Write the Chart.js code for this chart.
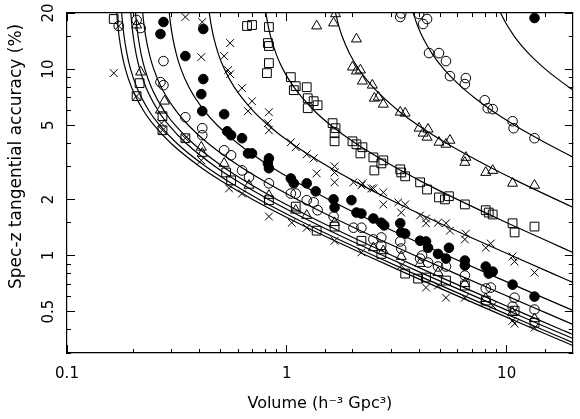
<!DOCTYPE html>
<html>
<head>
<meta charset="utf-8">
<script src="https://cdn.jsdelivr.net/npm/chart.js@4.4.1/dist/chart.umd.min.js"></script>
<style>
  html, body { margin: 0; padding: 0; background: #fff; }
</style>
</head>
<body>
<canvas id="chart" width="580" height="419"></canvas>
<script>
// Tick labels
const xTickLabels = [0.1, 1, 10];
const yTickLabels = [0.5, 1, 2, 5, 10, 20];

// Fitted curves (volume, accuracy %)
const curveK_V = [9.39, 9.96, 10.84, 11.62, 12.71, 13.70, 15.0, 16.76, 19.21, 20];
const curveK_S = [20, 17.5, 15, 13.5, 12, 11, 10, 9, 8, 7.74];
const curveJ_V = [3.758, 3.903, 4.127, 4.602, 5.183, 6.252, 7.161, 8.561, 10.88, 12.67, 15.16, 20];
const curveJ_S = [20, 17.5, 15, 12, 10, 8, 7, 6, 5, 4.5, 4, 3.37];
const curveI_V = [1.666, 1.713, 1.785, 1.937, 2.123, 2.467, 3.208, 3.953, 5.326, 8.291, 11.27, 16.76, 20];
const curveI_S = [20, 17.5, 15, 12, 10, 8, 6, 5, 4, 3, 2.5, 2, 1.816];
const curveH_V = [0.803, 0.819, 0.8436, 0.8957, 0.9594, 1.077, 1.330, 1.585, 2.054, 3.068, 4.087, 5.963, 10.02, 15.23, 20];
const curveH_S = [20, 17.5, 15, 12, 10, 8, 6, 5, 4, 3, 2.5, 2, 1.5, 1.2, 1.038];
const curveG_V = [0.4441, 0.4518, 0.4637, 0.4889, 0.5198, 0.5766, 0.6994, 0.8228, 1.050, 1.541, 2.035, 2.944, 4.908, 7.433, 10.52, 16.20, 20];
const curveG_S = [20, 17.5, 15, 12, 10, 8, 6, 5, 4, 3, 2.5, 2, 1.5, 1.2, 1, 0.8, 0.718];
const curveF_V = [0.2920, 0.2959, 0.3019, 0.3146, 0.3301, 0.3587, 0.4204, 0.4825, 0.5968, 0.8437, 1.092, 1.549, 2.537, 3.807, 5.359, 8.217, 14.39, 20];
const curveF_S = [20, 17.5, 15, 12, 10, 8, 6, 5, 4, 3, 2.5, 2, 1.5, 1.2, 1, 0.8, 0.6, 0.508];
const curveL1_V = [0.2210, 0.2238, 0.2280, 0.2371, 0.2481, 0.2684, 0.3123, 0.3565, 0.4377, 0.6133, 0.7899, 1.115, 1.817, 2.720, 3.824, 5.856, 10.25, 14.66, 20];
const curveL1_S = [20, 17.5, 15, 12, 10, 8, 6, 5, 4, 3, 2.5, 2, 1.5, 1.2, 1, 0.8, 0.6, 0.5, 0.427];
const curveL2_V = [0.2050, 0.2072, 0.2105, 0.2175, 0.2261, 0.2419, 0.2761, 0.3105, 0.3737, 0.5104, 0.6479, 0.9010, 1.448, 2.151, 3.010, 4.592, 8.009, 11.45, 17.77, 20];
const curveL2_S = [20, 17.5, 15, 12, 10, 8, 6, 5, 4, 3, 2.5, 2, 1.5, 1.2, 1, 0.8, 0.6, 0.5, 0.4, 0.377];
const curveL3_V = [0.1951, 0.1970, 0.2001, 0.2064, 0.2142, 0.2285, 0.2595, 0.2906, 0.3480, 0.4718, 0.5964, 0.8257, 1.321, 1.958, 2.737, 4.170, 7.267, 10.38, 16.11, 20];
const curveL3_S = [20, 17.5, 15, 12, 10, 8, 6, 5, 4, 3, 2.5, 2, 1.5, 1.2, 1, 0.8, 0.6, 0.5, 0.4, 0.359];
const curveL4_V = [0.1773, 0.1791, 0.1818, 0.1876, 0.1946, 0.2076, 0.2356, 0.2639, 0.3158, 0.4280, 0.5408, 0.7485, 1.197, 1.774, 2.480, 3.778, 6.583, 9.404, 14.60, 20];
const curveL4_S = [20, 17.5, 15, 12, 10, 8, 6, 5, 4, 3, 2.5, 2, 1.5, 1.2, 1, 0.8, 0.6, 0.5, 0.4, 0.341];
const curveL5_V = [0.1684, 0.1700, 0.1725, 0.1779, 0.1844, 0.1965, 0.2226, 0.2488, 0.2970, 0.4012, 0.5060, 0.6990, 1.116, 1.652, 2.307, 3.513, 6.119, 8.739, 13.56, 20];
const curveL5_S = [20, 17.5, 15, 12, 10, 8, 6, 5, 4, 3, 2.5, 2, 1.5, 1.2, 1, 0.8, 0.6, 0.5, 0.4, 0.329];

// Measured points, one pair of arrays per marker
const crossV = [0.1632, 0.1719, 0.3455, 0.4124, 0.5522, 0.4082, 0.5187, 0.5408, 0.5522, 0.6256, 0.6946, 0.666, 0.8291, 0.8204, 0.8291, 1.043, 1.098, 1.232, 1.325, 1.367, 1.649, 1.649, 1.649, 2.010, 2.208, 2.424, 2.185, 2.476, 2.748, 2.748, 3.213, 3.455, 3.315, 4.040, 4.299, 4.299, 4.873, 5.297, 5.523, 6.524, 6.456, 8.035, 8.465, 10.64, 10.87, 13.39,
  0.2691, 0.2719, 0.2073, 0.3455, 0.4082, 0.5465, 0.6256, 0.8291, 1.053, 1.232, 1.649, 2.185, 3.315, 4.299, 4.873, 5.297, 6.456, 8.643, 10.64, 10.87, 13.39];
const crossS = [9.52, 17.03, 19.04, 17.89, 13.80, 11.60, 11.75, 9.88, 9.40, 7.91, 6.73, 5.95, 5.87, 5.13, 4.70, 4.05, 3.81, 3.49, 3.32, 2.76, 3.01, 2.79, 2.47, 2.47, 2.44, 2.29, 2.38, 2.29, 2.18, 1.88, 1.93, 1.88, 1.70, 1.64, 1.58, 1.49, 1.50, 1.49, 1.36, 1.31, 1.22, 1.10, 1.16, 0.988, 0.929, 0.810,
  5.13, 4.70, 7.16, 4.26, 3.24, 2.29, 2.15, 1.62, 1.50, 1.41, 1.20, 1.04, 0.884, 0.673, 0.690, 0.594, 0.594, 0.538, 0.447, 0.431, 0.410];

const squareV = [0.1632, 0.2140, 0.2073, 0.2719, 0.2719, 0.3455, 0.5297, 0.6592, 0.6946, 0.8291, 0.8204, 0.8291, 0.8291, 0.812, 1.043, 1.098, 1.076, 1.232, 1.245, 1.325, 1.381, 1.245, 1.615, 1.666, 1.649, 1.649, 1.989, 2.074, 2.208, 2.162, 2.476, 2.502, 2.748, 2.691, 3.281, 3.315, 3.455, 4.040, 4.345, 4.924, 5.465, 5.242, 6.456, 8.035, 8.29, 8.643, 10.64, 10.87, 13.39,
  1.367, 3.455, 3.956, 4.299, 5.297, 6.456, 8.035, 10.87, 13.39, 0.8291, 1.098, 1.649, 2.185, 2.691, 0.5579];
const squareS = [18.57, 8.41, 7.16, 5.59, 4.70, 4.26, 2.79, 17.03, 17.24, 16.82, 13.80, 13.30, 10.77, 9.52, 9.06, 8.10, 7.71, 8.00, 6.98, 6.73, 6.40, 6.17, 5.13, 4.82, 4.53, 4.10, 4.10, 3.95, 3.81, 3.53, 3.36, 2.86, 3.24, 3.12, 2.90, 2.79, 2.66, 2.47, 2.26, 2.05, 2.08, 2.00, 1.88, 1.75, 1.70, 1.66, 1.49, 1.33, 1.43,
  1.36, 0.800, 0.752, 0.762, 0.734, 0.690, 0.573, 0.506, 0.436, 1.98, 1.83, 1.43, 1.20, 1.02, 2.53];

const triangleV = [0.2073, 0.2162, 0.2775, 0.2662, 0.4082, 0.4124, 0.5187, 0.6730, 1.632, 1.666, 1.367, 2.074, 1.989, 2.074, 2.162, 2.208, 2.449, 2.502, 2.608, 2.748, 3.281, 3.455, 3.998, 4.390, 4.168, 4.345, 4.924, 5.297, 5.523, 6.524, 6.456, 8.035, 8.643, 10.64, 13.39,
  0.8291, 1.098, 1.232, 1.649, 2.476, 2.748, 3.315, 4.040, 4.873, 6.456, 8.035, 10.64, 13.39];
const triangleS = [17.24, 9.64, 6.73, 6.02, 3.81, 3.53, 3.12, 2.38, 17.67, 19.8, 17.03, 14.50, 10.25, 9.76, 9.88, 8.62, 8.20, 6.98, 7.07, 6.48, 5.87, 5.80, 4.82, 4.76, 4.53, 4.31, 4.05, 3.95, 4.15, 3.36, 3.16, 2.79, 2.86, 2.44, 2.38,
  2.10, 1.75, 1.64, 1.50, 1.10, 1.06, 0.988, 0.906, 0.810, 0.707, 0.587, 0.494, 0.458];

const circleV = [0.1719, 0.2073, 0.2162, 0.2747, 0.2662, 0.2747, 0.3455, 0.4124, 0.4124, 0.5187, 0.5579, 0.6256, 0.6730, 0.8291, 1.043, 1.098, 1.232, 1.325, 1.381, 1.632, 2.010, 2.185, 2.476, 2.691, 2.691, 3.281, 3.315, 4.040, 4.124, 4.390, 4.873, 5.297, 6.456, 8.035, 8.465, 10.87, 10.64, 13.39,
  3.315, 3.281, 3.998, 4.168, 4.345, 4.437, 4.924, 5.297, 5.523, 6.524, 6.456, 7.951, 8.204, 8.643, 10.64, 10.76, 13.39];
const circleS = [17.03, 18.34, 16.61, 11.04, 8.51, 8.20, 5.52, 4.82, 4.42, 3.67, 3.45, 2.86, 2.63, 2.44, 2.15, 2.15, 1.98, 1.93, 1.75, 1.62, 1.41, 1.41, 1.22, 1.25, 1.13, 1.19, 1.09, 0.963, 1.00, 0.917, 0.873, 0.873, 0.781, 0.665, 0.673, 0.594, 0.532, 0.513,
  19.9, 19.04, 19.75, 17.46, 18.57, 12.19, 12.19, 11.04, 9.17, 8.95, 8.31, 6.81, 6.17, 6.10, 5.25, 4.82, 4.26];

const dotV = [0.2747, 0.2662, 0.3455, 0.4168, 0.4168, 0.4082, 0.4124, 0.5187, 0.5353, 0.5579, 0.6256, 0.6661, 0.6946, 0.8291, 0.8204, 0.8291, 1.043, 1.076, 1.232, 1.353, 1.632, 1.649, 1.968, 2.074, 2.185, 2.476, 2.691, 2.776, 3.281, 3.315, 3.455, 4.040, 4.299, 4.390, 4.873, 5.465, 5.297, 6.456, 6.456, 8.035, 8.29, 8.643, 10.64, 13.39, 13.39];
const dotS = [17.89, 15.43, 11.75, 16.41, 8.84, 7.34, 5.95, 5.73, 4.64, 4.42, 4.26, 3.53, 3.53, 3.32, 3.12, 2.94, 2.59, 2.44, 2.44, 2.21, 2.00, 1.81, 1.98, 1.70, 1.68, 1.58, 1.50, 1.45, 1.49, 1.33, 1.31, 1.20, 1.19, 1.10, 1.02, 1.10, 0.963, 0.940, 0.884, 0.873, 0.800, 0.820, 0.698, 0.602, 18.8];

const FONT = 'DejaVu Sans';
const INK = '#000';
const NONE = 'rgba(0,0,0,0)';

function pairs(xs, ys) {
  return xs.map((x, i) => ({x: x, y: ys[i]}));
}

function isTick(v, list) {
  return list.some(t => Math.abs(v / t - 1) < 1e-6);
}

// drop the label overhang padding so the plot box sits where it should
function noOverhang(s) {
  s.paddingLeft = 0;
  s.paddingRight = 0;
  s.paddingTop = 0;
  s.paddingBottom = 0;
}

function curve(xs, ys) {
  return {
    data: pairs(xs, ys),
    showLine: true,
    borderColor: INK,
    borderWidth: 1.2,
    pointRadius: 0,
    fill: false,
    cubicInterpolationMode: 'monotone'
  };
}

function markers(xs, ys, style, radius, fillColor) {
  return {
    data: pairs(xs, ys),
    showLine: false,
    pointStyle: style,
    pointRadius: radius,
    pointBorderWidth: 1,
    pointBorderColor: INK,
    pointBackgroundColor: fillColor
  };
}

// Frame axis without labels: only inward tick marks (minor or major)
function frameAxis(position, min, max, labels, major, weight) {
  const horizontal = position === 'top' || position === 'bottom';
  return {
    type: 'logarithmic',
    position: position,
    min: min,
    max: max,
    weight: weight,
    border: {display: !major, color: INK, width: 1.2},
    grid: {
      drawOnChartArea: false,
      drawTicks: true,
      tickLength: major ? -8 : -4,
      tickWidth: 1,
      tickColor: ctx => (!major || isTick(ctx.tick.value, labels)) ? INK : NONE
    },
    ticks: {display: false, autoSkip: false},
    afterFit: s => {
      if (horizontal) s.height = 0; else s.width = 0;
      noOverhang(s);
    }
  };
}

const datasets = [
  markers(crossV, crossS, 'crossRot', 5.5, NONE),
  markers(squareV, squareS, 'rect', 6.2, NONE),
  markers(triangleV, triangleS, 'triangle', 5.8, NONE),
  markers(circleV, circleS, 'circle', 4.8, NONE),
  markers(dotV, dotS, 'circle', 4.8, INK),
  curve(curveK_V, curveK_S),
  curve(curveJ_V, curveJ_S),
  curve(curveI_V, curveI_S),
  curve(curveH_V, curveH_S),
  curve(curveG_V, curveG_S),
  curve(curveF_V, curveF_S),
  curve(curveL1_V, curveL1_S),
  curve(curveL2_V, curveL2_S),
  curve(curveL3_V, curveL3_S),
  curve(curveL4_V, curveL4_S),
  curve(curveL5_V, curveL5_S)
];

new Chart(document.getElementById('chart'), {
  type: 'scatter',
  data: {datasets: datasets},
  options: {
    responsive: false,
    animation: false,
    devicePixelRatio: 1,
    layout: {padding: {top: 13, right: 4, bottom: 0, left: 0}},
    plugins: {legend: {display: false}, tooltip: {enabled: false}},
    scales: {
      x: {
        type: 'logarithmic',
        position: 'bottom',
        min: 0.1,
        max: 20,
        weight: 0,
        border: {display: true, color: INK, width: 1.2},
        grid: {drawOnChartArea: false, drawTicks: true, tickLength: -4, tickWidth: 1, tickColor: INK},
        ticks: {
          autoSkip: false,
          minRotation: 0,
          maxRotation: 0,
          padding: 16,
          color: INK,
          font: {family: FONT, size: 15},
          callback: v => isTick(v, xTickLabels) ? String(v) : ''
        },
        title: {
          display: true,
          text: 'Volume (h\u207B\u00B3 Gpc\u00B3)',
          color: INK,
          font: {family: FONT, size: 16},
          padding: {top: 0, bottom: 6}
        },
        afterFit: s => { s.height = 66; noOverhang(s); }
      },
      y: {
        type: 'logarithmic',
        position: 'left',
        min: 0.3,
        max: 20,
        weight: 0,
        border: {display: true, color: INK, width: 1.2},
        grid: {drawOnChartArea: false, drawTicks: true, tickLength: -4, tickWidth: 1, tickColor: INK},
        ticks: {
          autoSkip: false,
          minRotation: 90,
          maxRotation: 90,
          crossAlign: 'center',
          padding: 10,
          color: INK,
          font: {family: FONT, size: 15},
          callback: v => isTick(v, yTickLabels) ? String(v) : ''
        },
        title: {
          display: true,
          align: 'end',
          text: 'Spec-z tangential accuracy (%)\u00A0\u00A0',
          color: INK,
          font: {family: FONT, size: 17},
          padding: {top: 6, bottom: 0}
        },
        afterFit: s => { s.width = 67; noOverhang(s); }
      },
      xMajor: frameAxis('bottom', 0.1, 20, xTickLabels, true, -1),
      xTop: frameAxis('top', 0.1, 20, xTickLabels, false, 0),
      xTopMajor: frameAxis('top', 0.1, 20, xTickLabels, true, -1),
      yMajor: frameAxis('left', 0.3, 20, yTickLabels, true, -1),
      yRight: frameAxis('right', 0.3, 20, yTickLabels, false, 0),
      yRightMajor: frameAxis('right', 0.3, 20, yTickLabels, true, -1)
    }
  }
});
</script>
</body>
</html>
